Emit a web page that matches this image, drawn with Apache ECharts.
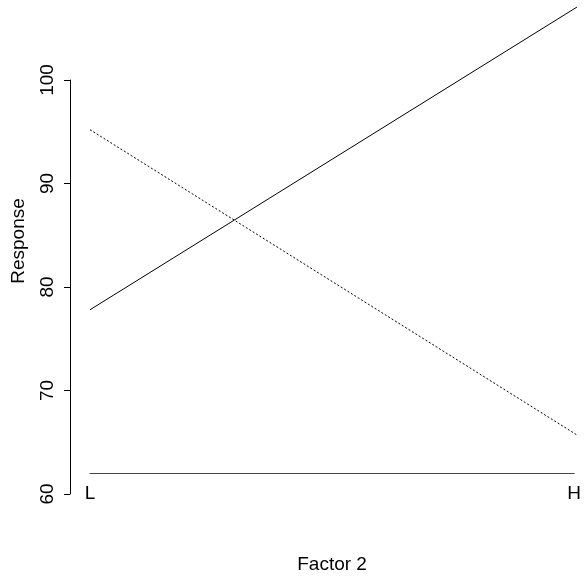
<!DOCTYPE html>
<html><head><meta charset="utf-8">
<script src="https://cdn.jsdelivr.net/npm/echarts@6/dist/echarts.min.js"></script>
<style>html,body{margin:0;padding:0;background:#fff}#c{width:584px;height:582px}</style>
</head><body><div id="c"></div>
<script>
const categories = ['L', 'H'];
const solidSeries = [77.8, 107.05];
const dottedSeries = [95.2, 65.7];
const yTicks = [60, 70, 80, 90, 100];
const xName = 'Factor 2';
const yName = 'Response';

const FONT = "'Liberation Sans', Arial, Helvetica, sans-serif";
const FS = 19;
const chart = echarts.init(document.getElementById('c'), null, {renderer: 'canvas'});
const yMaxData = 60 + 494 / 10.35;
chart.setOption({
  animation: false,
  backgroundColor: '#fff',
  textStyle: {fontFamily: FONT},
  grid: [
    {left: 90, right: 7, top: 0, height: 494},
    {left: 70, width: 10, top: 80, height: 414},
    {left: 90, right: 7, top: 0, height: 473},
    {left: 90, right: 7, top: 0, height: 482}
  ],
  xAxis: [
    {gridIndex: 0, type: 'category', data: categories, boundaryGap: false, show: false},
    {gridIndex: 1, type: 'value', show: false},
    {gridIndex: 2, type: 'category', data: categories, boundaryGap: false,
     axisLine: {show: true, lineStyle: {color: '#444', width: 1}},
     axisTick: {show: false}, splitLine: {show: false},
     axisLabel: {color: '#000', fontSize: FS, fontFamily: FONT, margin: 11},
     name: xName, nameLocation: 'middle', nameGap: 82,
     nameTextStyle: {color: '#000', fontSize: FS, fontFamily: FONT}},
    {gridIndex: 3, type: 'value', show: false}
  ],
  yAxis: [
    {gridIndex: 0, type: 'value', min: 60, max: yMaxData, show: false},
    {gridIndex: 1, type: 'value', min: yTicks[0], max: yTicks[yTicks.length - 1], interval: 10,
     axisLine: {show: true, lineStyle: {color: '#000', width: 1}},
     axisTick: {show: true, inside: false, length: 6, lineStyle: {color: '#000'}},
     splitLine: {show: false},
     axisLabel: {color: '#000', fontSize: FS, fontFamily: FONT, rotate: 90, margin: 13,
                 showMinLabel: true, showMaxLabel: true}},
    {gridIndex: 2, type: 'value', show: false},
    {gridIndex: 3, type: 'value', min: 0, max: 1,
     axisLine: {show: false}, axisTick: {show: false}, axisLabel: {show: false}, splitLine: {show: false},
     name: yName, nameLocation: 'middle', nameGap: 62, nameRotate: 90,
     nameTextStyle: {color: '#000', fontSize: FS, fontFamily: FONT}}
  ],
  series: [
    {type: 'line', xAxisIndex: 0, yAxisIndex: 0, data: solidSeries, symbol: 'none',
     lineStyle: {color: '#000', width: 1, type: 'solid'}, silent: true},
    {type: 'line', xAxisIndex: 0, yAxisIndex: 0, data: dottedSeries, symbol: 'none',
     lineStyle: {color: '#000', width: 1, type: [2, 2]}, silent: true}
  ]
});
</script></body></html>
